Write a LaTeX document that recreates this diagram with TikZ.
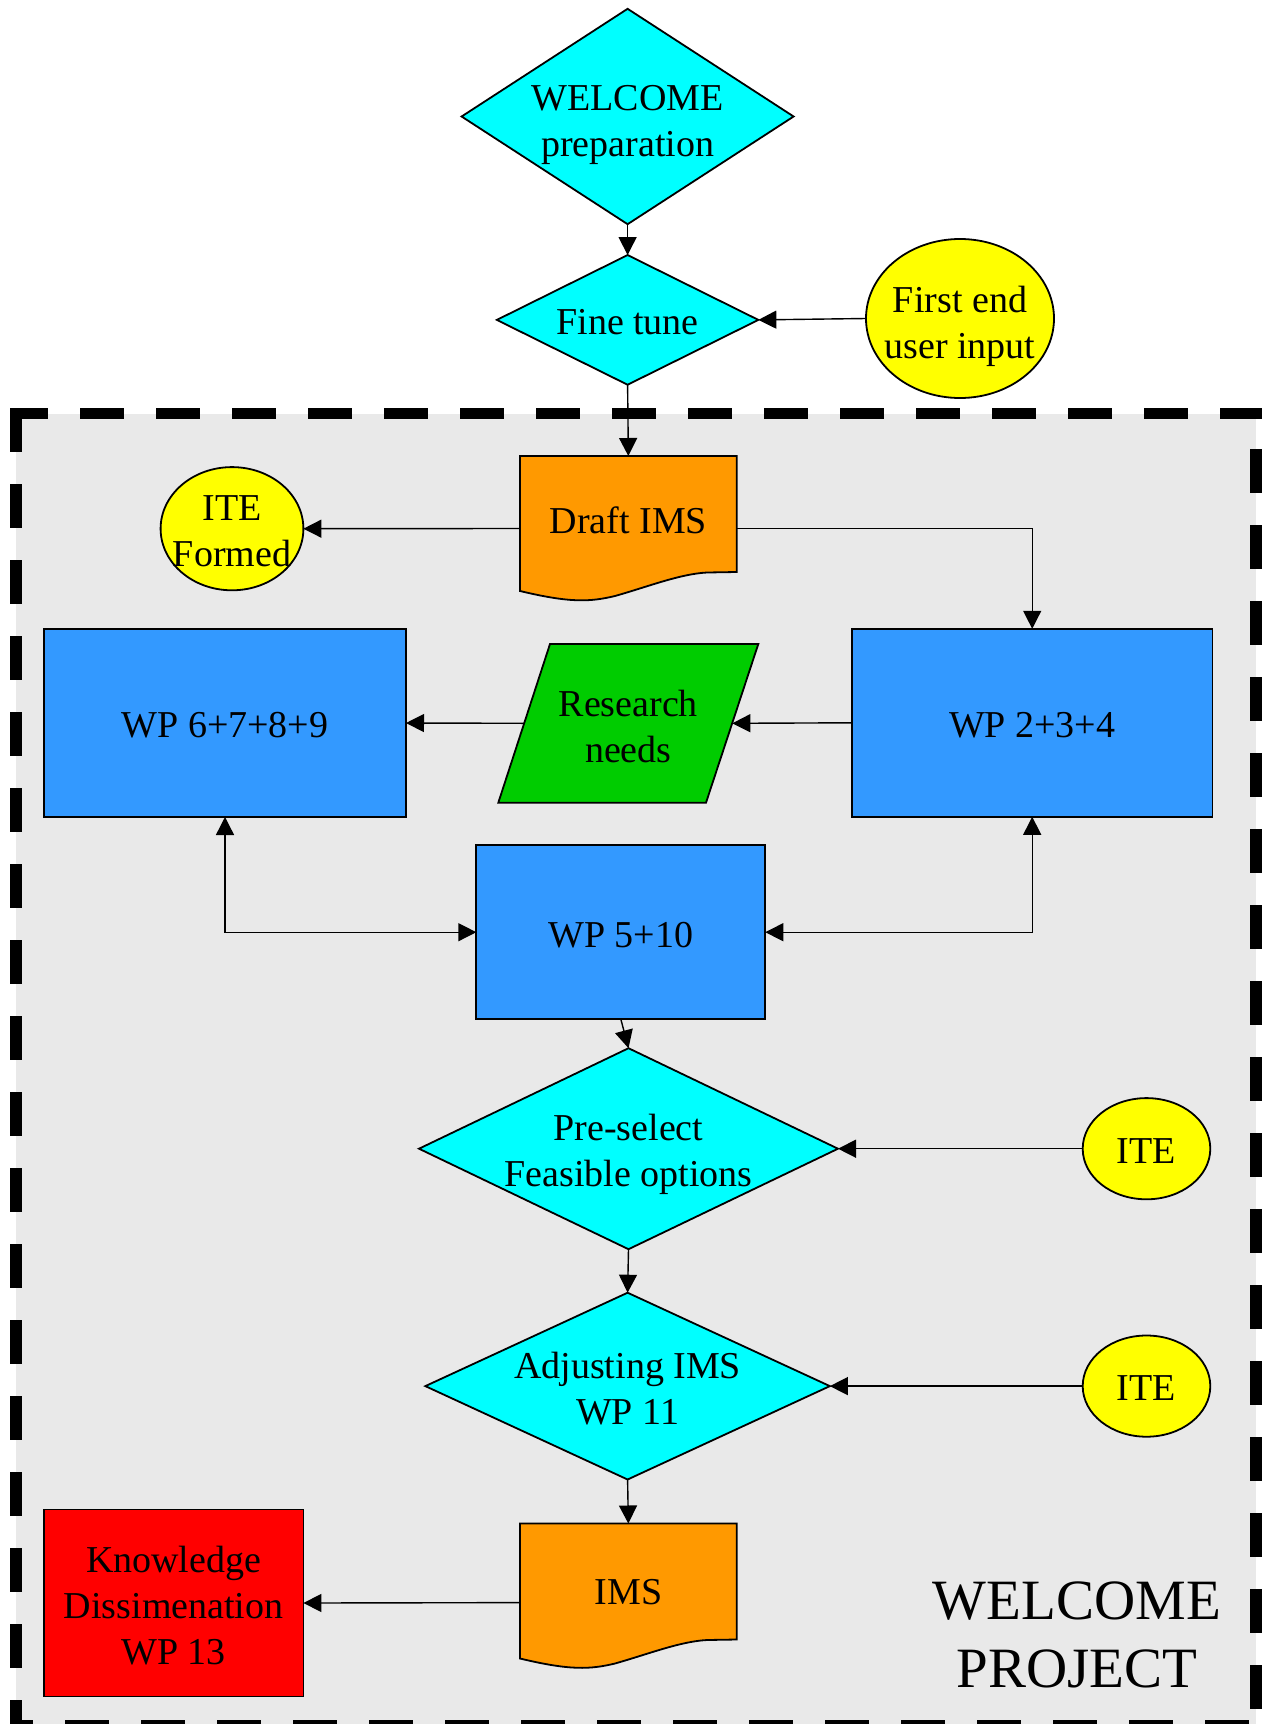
\documentclass[tikz,border=0pt]{standalone}
\usepackage{fontspec}
\setmainfont{Liberation Serif}
\usetikzlibrary{shapes.geometric,arrows.meta}
\definecolor{cyanf}{HTML}{00FFFF}
\definecolor{yellowf}{HTML}{FFFF00}
\definecolor{orangef}{HTML}{FF9900}
\definecolor{bluef}{HTML}{3399FF}
\definecolor{greenf}{HTML}{00CC00}
\definecolor{redf}{HTML}{FF0000}
\definecolor{grayf}{HTML}{E9E9E9}
\begin{document}
\begin{tikzpicture}[x=0.5pt,y=-0.5pt,
  txt/.style={font=\fontsize{19}{23}\selectfont, align=center, inner sep=0pt, yshift=-1pt},
  bigtxt/.style={font=\fontsize{28.5}{34}\selectfont, align=center, inner sep=0pt},
  shp/.style={draw=black, line width=0.9pt, inner sep=0pt, outer sep=0pt},
  dia/.style={shp, diamond, fill=cyanf},
  ell/.style={shp, ellipse, fill=yellowf},
  wpbox/.style={shp, rectangle, fill=bluef},
  ghost/.style={rectangle, inner sep=0pt, outer sep=0pt},
  conn/.style={line width=0.7pt, -{Triangle[width=9pt,length=9pt]}},
  dconn/.style={line width=0.7pt, {Triangle[width=9pt,length=9pt]}-{Triangle[width=9pt,length=9pt]}},
  dashb/.style={line width=5.75pt, dash pattern=on 22pt off 16pt, line cap=butt}
]
\useasboundingbox (0,0) rectangle (1263,1724);
% project area
\fill[grayf] (16,413.5) rectangle (1256,1726);
\draw[dashb, dash phase=3pt] (10,413.5) -- (1262,413.5);
\draw[dashb] (16,408) -- (16,1732);
\draw[dashb, dash phase=22pt] (1256,417) -- (1256,1732);
\draw[dashb, dash phase=10.5pt] (10,1726) -- (1262,1726);

% shapes
\node[dia, minimum width=166pt, minimum height=107.7pt] (welcome) at (627.6,116.5) {};
\node[txt] (welcomet) at (627.6,123) {WELCOME\\preparation};

\node[dia, minimum width=130.75pt, minimum height=64.85pt] (finetune) at (627.6,319.9) {};
\node[txt] (finetunet) at (627.6,320) {Fine tune};

\node[ell, minimum width=94pt, minimum height=79.5pt] (first) at (960,318.5) {};
\node[txt] (firstt) at (960,324) {First end\\user input};

% Draft IMS document
\draw[shp, fill=orangef] (520,456) -- (736.7,456) -- (736.7,572) -- (707,572.5)
  .. controls (680,574) and (650,586) .. (615,596)
  .. controls (590,602) and (570,603) .. (520,591) -- cycle;
\node[ghost, minimum width=108.35pt, minimum height=72.5pt] (draft) at (628.35,528.5) {};
\node[txt] (draftt) at (628.35,518) {Draft IMS};

\node[ell, minimum width=71.4pt, minimum height=61.6pt] (itef) at (232,528.7) {};
\node[txt] (iteft) at (232,529.5) {ITE\\Formed};

\node[wpbox, minimum width=181pt, minimum height=94pt] (wp6) at (225,723) {};
\node[txt] (wp6t) at (225,723) {WP 6+7+8+9};

\node[wpbox, minimum width=180.25pt, minimum height=94pt] (wp2) at (1032.2,722.8) {};
\node[txt] (wp2t) at (1032.2,722.8) {WP 2+3+4};

% Research needs parallelogram
\draw[shp, fill=greenf] (550,644) -- (758.3,644) -- (706,802.7) -- (498.3,802.7) -- cycle;
\node[ghost, minimum width=104pt, minimum height=79.35pt] (res) at (628.3,723.3) {};
\node[txt] (rest) at (628.3,724) {Research\\needs};

\node[wpbox, minimum width=144.5pt, minimum height=86.85pt] (wp5) at (620.8,932.2) {};
\node[txt] (wp5t) at (620.8,933.5) {WP 5+10};

\node[dia, minimum width=209.5pt, minimum height=100.5pt] (pre) at (628.5,1148.7) {};
\node[txt] (pret) at (628.5,1152) {Pre-select\\Feasible options};

\node[ell, minimum width=63.8pt, minimum height=50.6pt] (ite1) at (1146.5,1148.7) {};
\node[txt] (ite1t) at (1146.5,1148.7) {ITE};

\node[dia, minimum width=202.25pt, minimum height=93.4pt] (adj) at (627.6,1386.1) {};
\node[txt] (adjt) at (627.6,1387) {Adjusting IMS\\WP 11};

\node[ell, minimum width=63.8pt, minimum height=50.6pt] (ite2) at (1146.5,1386.1) {};
\node[txt] (ite2t) at (1146.5,1386.1) {ITE};

% IMS document
\draw[shp, fill=orangef] (520,1523.5) -- (736.7,1523.5) -- (736.7,1639.5) -- (707,1640)
  .. controls (680,1641.5) and (650,1653.5) .. (615,1663.5)
  .. controls (590,1669.5) and (570,1670.5) .. (520,1658.5) -- cycle;
\node[ghost, minimum width=108.35pt, minimum height=79.1pt] (ims) at (628.35,1602.6) {};
\node[txt] (imst) at (628.35,1590.5) {IMS};

\node[shp, rectangle, fill=redf, minimum width=129.7pt, minimum height=93.5pt] (know) at (173.7,1603) {};
\node[txt] (knowt) at (173.7,1604) {Knowledge\\Dissimenation\\WP 13};

\node[bigtxt] (proj) at (1077,1635) {WELCOME\\PROJECT};

% connectors
\draw[conn] (welcome.south) -- (finetune.north);
\draw[conn] (first.west) -- (finetune.east);
\draw[conn] (finetune.south) -- (draft.north);
\draw[conn] (draft.west) -- (itef.east);
\draw[conn] (draft.east) -| (wp2.north);
\draw[conn] (wp2.west) -- (res.east);
\draw[conn] (res.west) -- (wp6.east);
\draw[dconn] (wp6.south) |- (wp5.west);
\draw[dconn] (wp2.south) |- (wp5.east);
\draw[conn] (wp5.south) -- (pre.north);
\draw[conn] (ite1.west) -- (pre.east);
\draw[conn] (pre.south) -- (adj.north);
\draw[conn] (ite2.west) -- (adj.east);
\draw[conn] (adj.south) -- (ims.north);
\draw[conn] (ims.west) -- (know.east);
\end{tikzpicture}
\end{document}
